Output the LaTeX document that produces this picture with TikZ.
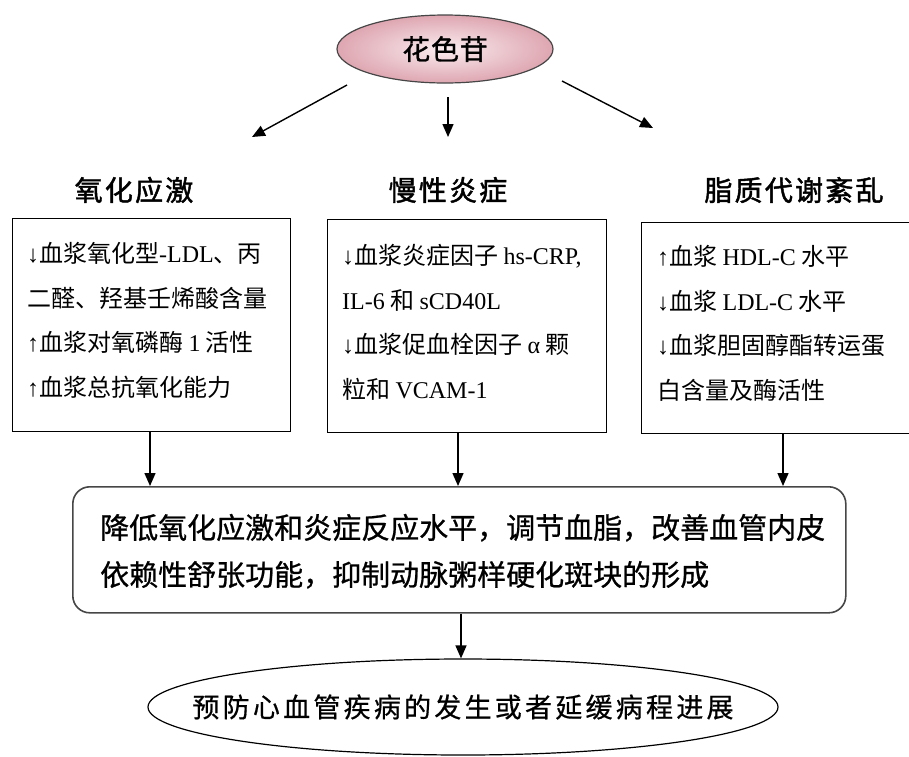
\documentclass[tikz,border=0pt]{standalone}
\usepackage{fontspec}
\setmainfont{Liberation Serif}
\newfontfamily\cjk{Noto Sans CJK SC}
\newfontfamily\cjkhead{Noto Sans CJK SC}[FakeBold=1.6,LetterSpace=8]
\newfontfamily\cjkmid{Noto Sans CJK SC}[FakeBold=0.8]
\newfontfamily\cjkgoal{Noto Sans CJK SC}[FakeBold=0.6,LetterSpace=12]
\newfontfamily\cjktop{Noto Sans CJK SC}[FakeBold=1.0,LetterSpace=3]
\newfontfamily\lat{Liberation Serif}
\usetikzlibrary{arrows.meta,shapes.geometric}
\newcommand\en[1]{{\lat #1}}
\definecolor{pinkin}{RGB}{250,236,239}
\definecolor{pinkout}{RGB}{222,166,177}
\definecolor{edgegray}{RGB}{70,70,70}
\begin{document}
\begin{tikzpicture}[x=1pt,y=-1pt,
  arr/.style={-{Triangle[length=13pt,width=11pt]},line width=1.4pt,draw=black},
  infobox/.style={draw=black,line width=1.3pt,rectangle,inner sep=0,anchor=north west},
  boxtext/.style={anchor=base west,align=left,inner sep=0,font=\cjk\fontsize{24}{44.5}\selectfont},
  head/.style={font=\cjkhead\fontsize{28}{30}\selectfont,inner sep=0},
 ]
\useasboundingbox (0,0) rectangle (909,756);
\clip (0,0) rectangle (909,756);

% top ellipse
\node[ellipse, draw=edgegray, line width=1.2pt, inner color=pinkin, outer color=pinkout,
      minimum width=216pt, minimum height=68pt, inner sep=0,
      font=\cjktop\fontsize{28}{30}\selectfont] (top) at (445,49) {花色苷};

% arrows from top
\coordinate (s1) at (347,85);  \coordinate (e1) at (252,137);
\coordinate (s2) at (448,97);  \coordinate (e2) at (448,137);
\coordinate (s3) at (562,81);  \coordinate (e3) at (653,128);
\draw[arr] (s1) -- (e1);
\draw[arr] (s2) -- (e2);
\draw[arr] (s3) -- (e3);

% headings
\node[head] (h1) at (134,190) {氧化应激};
\node[head] (h2) at (448,190) {慢性炎症};
\node[head] (h3) at (794,190) {脂质代谢紊乱};

% boxes
\node[infobox, minimum width=278pt, minimum height=213pt] (b1) at (12,218) {};
\node[infobox, minimum width=279pt, minimum height=213pt] (b2) at (327,219) {};
\node[infobox, minimum width=290pt, minimum height=211pt] (b3) at (641,222) {};

% (base anchor of a multi-line node = last line)
\node[boxtext] (t1) at (27,396) {\en{↓}血浆氧化型\en{-LDL}、丙\\二醛、羟基壬烯酸含量\\\en{↑}血浆对氧磷酶 \en{1} 活性\\\en{↑}血浆总抗氧化能力};
\node[boxtext] (t2) at (342,398) {\en{↓}血浆炎症因子 \en{hs-CRP,}\\\en{IL-6} 和 \en{sCD40L}\\\en{↓}血浆促血栓因子 \en{α} 颗\\粒和 \en{VCAM-1}};
\node[boxtext] (t3) at (657,399) {\en{↑}血浆 \en{HDL-C} 水平\\\en{↓}血浆 \en{LDL-C} 水平\\\en{↓}血浆胆固醇酯转运蛋\\白含量及酶活性};

% middle rounded box
\node[draw=edgegray, line width=1.6pt, rounded corners=17pt, rectangle, inner sep=0,
      anchor=north west, minimum width=773pt, minimum height=126pt] (mid) at (72,486) {};
\node[anchor=base west, align=left, inner sep=0, font=\cjkmid\fontsize{29}{47}\selectfont] (midtext) at (100,585.5)
  {降低氧化应激和炎症反应水平，调节血脂，改善血管内皮\\依赖性舒张功能，抑制动脉粥样硬化斑块的形成};

% goal ellipse
\node[ellipse, draw=black, line width=1.2pt, minimum width=630pt, minimum height=96pt, inner sep=0] (goal) at (463,707) {};
\node[inner sep=0, font=\cjkgoal\fontsize{27}{30}\selectfont] (goaltext) at (goal.center) {预防心血管疾病的发生或者延缓病程进展};

% down arrows
\coordinate (x1) at (150,0);
\coordinate (x2) at (458,0);
\coordinate (x3) at (783,0);
\coordinate (x4) at (461,0);
\draw[arr] (b1.south -| x1) -- (mid.north -| x1);
\draw[arr] (b2.south -| x2) -- (mid.north -| x2);
\draw[arr] (b3.south -| x3) -- (mid.north -| x3);
\draw[arr] (mid.south -| x4) -- (goal.north -| x4);
\end{tikzpicture}
\end{document}
